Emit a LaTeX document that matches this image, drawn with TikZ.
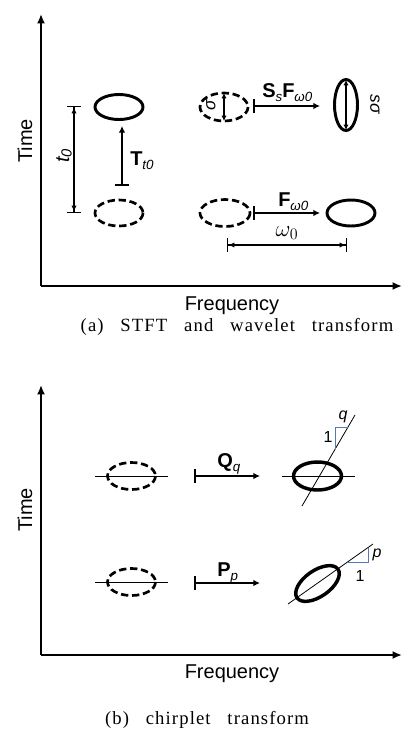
\documentclass[tikz,border=0pt]{standalone}
\usepackage{fontspec}
\setmainfont{Liberation Serif}
\setsansfont{Liberation Sans}
\usetikzlibrary{arrows.meta}

\definecolor{slopeblue}{RGB}{85,120,180}
\newcommand{\lblfont}{\sffamily\fontsize{15}{18}\selectfont}
\newcommand{\opfont}{\sffamily\bfseries\fontsize{15}{18}\selectfont}
\newcommand{\subfont}{\sffamily\mdseries\itshape\fontsize{10}{12}\selectfont}
\newcommand{\opsub}[1]{\raisebox{-3pt}{\subfont #1}}
\newcommand{\capfont}{\rmfamily\fontsize{14}{16}\selectfont\addfontfeature{LetterSpace=6}}
\newcommand{\capgap}{\hspace{0.9em}}

\tikzset{
  axis/.style={line width=1.6pt,-{Latex[length=7pt,width=6pt]}},
  solidell/.style={line width=2.2pt},
  thickell/.style={line width=2.6pt},
  dashell/.style={line width=2pt,dash pattern=on 5.5pt off 2.8pt},
  mapto/.style={line width=1.5pt,{Bar[width=10pt]}-{Latex[length=5pt,width=5pt]}},
  dimline/.style={line width=1pt,{Bar[width=10pt]Latex[length=4.5pt,width=4pt]}-{Latex[length=4.5pt,width=4pt]Bar[width=10pt]}},
  dblarrow/.style={line width=1pt,{Latex[length=4pt,width=4pt]}-{Latex[length=4pt,width=4pt]}},
  guide/.style={line width=0.6pt},
  slope/.style={line width=0.6pt,draw=slopeblue},
  lbl/.style={inner sep=0pt,font=\lblfont},
  oplbl/.style={inner sep=0pt,font=\opfont,anchor=base west},
  captxt/.style={inner sep=0pt,font=\capfont},
}

\begin{document}
\begin{tikzpicture}[x=0.75pt,y=-0.75pt]
  \useasboundingbox (0,0) rectangle (418,740);
  % (a) STFT and wavelet transform
  \coordinate (oA) at (41,286);
  \coordinate (tA) at (41,14);
  \coordinate (fA) at (402,286);
  \draw [axis] (oA) -- (tA);
  \draw [axis] (oA) -- (fA);
  \node [lbl, rotate=90] (timeA) at (25,141) {Time};
  \node [lbl] (freqA) at (232,306) {Frequency};
  \node [captxt] (capA) at (237,327) {(a)\capgap STFT\capgap and\capgap wavelet\capgap transform};

  \coordinate (ellA) at (119,107);
  \coordinate (ellB) at (119,213);
  \draw [solidell] (ellA) ellipse (24 and 12.5);
  \draw [dashell] (ellB) ellipse (24 and 13);
  \coordinate (tTop) at (74,106);
  \coordinate (tBot) at (74,213);
  \draw [dimline] (tTop) -- (tBot);
  \node [inner sep=0pt, rotate=90, font=\sffamily\itshape\fontsize{15}{18}\selectfont] (tlbl) at (64,156)
    {t\raisebox{-2pt}{\fontsize{11}{12}\selectfont 0}};
  \coordinate (shiftBot) at (122,186);
  \coordinate (shiftTop) at (122,126);
  \draw [mapto] (shiftBot) -- (shiftTop);
  \node [oplbl] (Tlbl) at (130,165) {T\opsub{t0}};

  \coordinate (ellC) at (224,107);
  \draw [dashell] (ellC) ellipse (24 and 14);
  \coordinate (sigTop) at (224,93);
  \coordinate (sigBot) at (224,121);
  \draw [dblarrow] (sigTop) -- (sigBot);
  \node [inner sep=0pt, rotate=90, font=\sffamily\itshape\fontsize{13}{15}\selectfont] (siglbl) at (211,105) {σ};
  \coordinate (scaleFrom) at (253,106);
  \coordinate (scaleTo) at (320,106);
  \draw [mapto] (scaleFrom) -- (scaleTo);
  \node [oplbl] (SFlbl) at (262,97) {S\opsub{s}F\opsub{ω0}};
  \coordinate (ellD) at (346,105);
  \draw [solidell] (ellD) ellipse (11.5 and 25.5);
  \coordinate (ssTop) at (346,80);
  \coordinate (ssBot) at (346,130);
  \draw [dblarrow] (ssTop) -- (ssBot);
  \node [inner sep=0pt, rotate=-90, font=\sffamily\itshape\fontsize{13}{15}\selectfont] (sslbl) at (375,104) {sσ};

  \coordinate (ellE) at (225,213);
  \draw [dashell] (ellE) ellipse (25 and 13.5);
  \coordinate (modFrom) at (253,213);
  \coordinate (modTo) at (320,213);
  \draw [mapto] (modFrom) -- (modTo);
  \node [oplbl] (Flbl) at (278,206) {F\opsub{ω0}};
  \coordinate (ellF) at (351,213);
  \draw [solidell] (ellF) ellipse (24 and 13);
  \coordinate (wLeft) at (227,245);
  \coordinate (wRight) at (347,245);
  \draw [dimline] (wLeft) -- (wRight);
  \node [inner sep=0pt, font=\fontsize{18}{20}\selectfont] (wlbl) at (287,233) {$\omega_0$};

  % (b) chirplet transform
  \coordinate (oB) at (41,655);
  \coordinate (tB) at (41,385);
  \coordinate (fB) at (402,655);
  \draw [axis] (oB) -- (tB);
  \draw [axis] (oB) -- (fB);
  \node [lbl, rotate=90] (timeB) at (25,510) {Time};
  \node [lbl] (freqB) at (232,674) {Frequency};
  \node [captxt] (capB) at (207,720) {(b)\capgap chirplet\capgap transform};

  \coordinate (ellG) at (131.5,476);
  \draw [dashell] (ellG) ellipse (24 and 13.5);
  \draw [guide] (95,476) -- (168,476);
  \coordinate (qFrom) at (194,476);
  \coordinate (qTo) at (260,476);
  \draw [mapto] (qFrom) -- (qTo);
  \node [oplbl] (Qlbl) at (217,467) {Q\opsub{q}};
  \coordinate (ellH) at (317.5,476);
  \draw [thickell] (ellH) ellipse (24 and 14);
  \draw [guide] (282,476) -- (355,476);
  \coordinate (qLow) at (302,506);
  \coordinate (qHigh) at (355,415);
  \draw [guide] (qLow) -- (qHigh);
  \draw [slope] (348,427) -- (335,427) -- (335,449);
  \node [inner sep=0pt, font=\sffamily\fontsize{12}{14}\selectfont] (qone) at (328,437) {1};
  \node [inner sep=0pt, font=\sffamily\itshape\fontsize{12}{14}\selectfont] (qlbl) at (343,417) {q};

  \coordinate (ellI) at (131.5,582);
  \draw [dashell] (ellI) ellipse (24 and 13.5);
  \draw [guide] (95,582) -- (168,582);
  \coordinate (pFrom) at (194,583);
  \coordinate (pTo) at (260,583);
  \draw [mapto] (pFrom) -- (pTo);
  \node [oplbl] (Plbl) at (217,576) {P\opsub{p}};
  \coordinate (ellJ) at (317.5,583.5);
  \draw [thickell, rotate around={35:(ellJ)}] (ellJ) ellipse (25 and 13);
  \coordinate (pLow) at (288,604);
  \coordinate (pHigh) at (373,544);
  \draw [guide] (pLow) -- (pHigh);
  \draw [slope] (347,562.5) -- (368,562.5) -- (368,547.5);
  \node [inner sep=0pt, font=\sffamily\fontsize{12}{14}\selectfont] (pone) at (360,576) {1};
  \node [inner sep=0pt, font=\sffamily\itshape\fontsize{12}{14}\selectfont] (plbl) at (377,555) {p};
\end{tikzpicture}
\end{document}
